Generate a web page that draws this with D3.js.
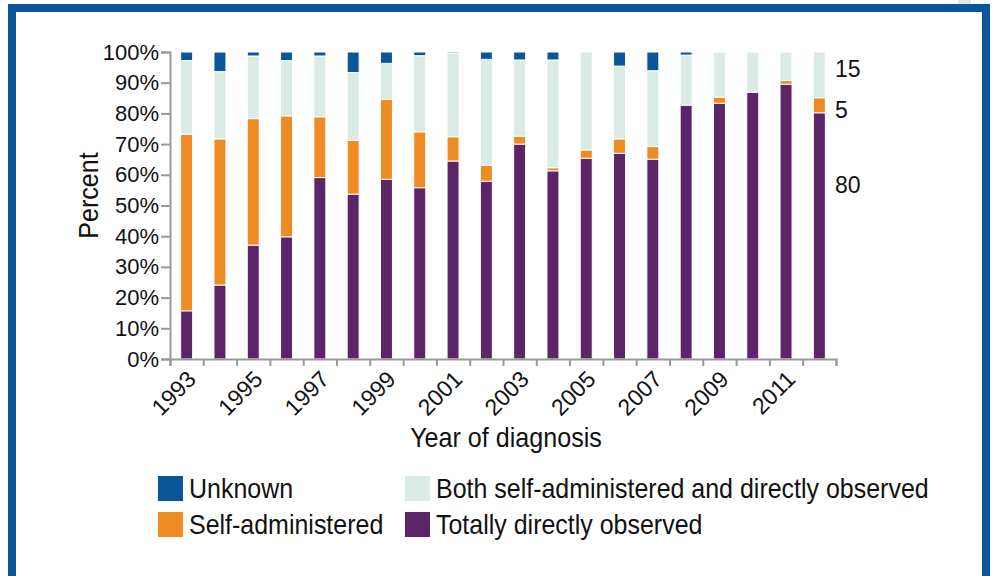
<!DOCTYPE html>
<html>
<head>
<meta charset="utf-8">
<script src="https://cdn.jsdelivr.net/npm/d3@7"></script>
<style>
  body { margin: 0; background: #fff; }
  text { font-family: "Liberation Sans Narrow", "Arial Narrow", "Liberation Sans", sans-serif; fill: #111; }
</style>
</head>
<body>
<script>
const width = 994;
const height = 576;

// data (percent of cases)
const years = d3.range(1993, 2013);
const totallyObserved = [15.7, 24.1, 37.1, 39.8, 59.1, 53.7, 58.5, 55.8, 64.5, 57.9, 70.0, 61.3, 65.4, 67.0, 65.1, 82.7, 83.3, 86.9, 89.5, 80.2];
const selfAdmin = [57.5, 47.6, 41.2, 39.4, 19.8, 17.5, 26.1, 18.2, 7.9, 5.2, 2.6, 1.0, 2.7, 4.7, 4.1, 0, 2.0, 0, 1.2, 4.9];
const both = [24.0, 21.9, 20.4, 18.0, 19.8, 22.1, 11.7, 24.8, 27.2, 34.5, 24.8, 35.1, 31.9, 23.7, 24.7, 16.3, 14.7, 13.1, 9.3, 14.9];
const unknown = [2.8, 6.4, 1.3, 2.8, 1.3, 6.7, 3.7, 1.2, 0.4, 2.4, 2.6, 2.6, 0, 4.6, 6.1, 1.0, 0, 0, 0, 0];
const yTicks = [0, 10, 20, 30, 40, 50, 60, 70, 80, 90, 100];
const xLabelYears = [1993, 1995, 1997, 1999, 2001, 2003, 2005, 2007, 2009, 2011];
// numbers printed to the right of the last bar, with the percent height they sit at
const endLabels = ['15', '5', '80'];
const endLabelAt = [94.5, 81, 56.7];

const keys = ['tdo', 'self', 'both', 'unknown'];
const colors = { tdo: '#5c2568', self: '#ee8b22', both: '#d9ebe4', unknown: '#0b5697' };
const legendItems = [
  { key: 'unknown', label: 'Unknown' },
  { key: 'self', label: 'Self-administered' },
  { key: 'both', label: 'Both self-administered and directly observed' },
  { key: 'tdo', label: 'Totally directly observed' }
];

const rows = years.map((yr, i) => ({
  year: yr, tdo: totallyObserved[i], self: selfAdmin[i], both: both[i], unknown: unknown[i]
}));

// the original uses a condensed face; squeeze the fallback a bit
const squeeze = 0.93;

const svg = d3.select('body').append('svg')
  .attr('width', width)
  .attr('height', height);

// frame
svg.append('rect')
  .attr('x', 12).attr('y', 8)
  .attr('width', 974).attr('height', 576)
  .attr('fill', 'none')
  .attr('stroke', '#0b5697')
  .attr('stroke-width', 8);
svg.append('rect')
  .attr('x', 958).attr('y', 0).attr('width', 13).attr('height', 4)
  .attr('fill', '#d9ebe4');

const plot = { left: 170, right: 836, top: 52, bottom: 359 };

const x = d3.scaleBand()
  .domain(years)
  .range([plot.left, plot.right])
  .paddingInner(0.64)
  .paddingOuter(0.32);

const xEdge = d3.scaleLinear()
  .domain([0, years.length])
  .range([plot.left, plot.right]);

const y = d3.scaleLinear()
  .domain([0, 100])
  .range([plot.bottom, plot.top]);

const series = d3.stack().keys(keys)(rows);

svg.append('g')
  .selectAll('g')
  .data(series)
  .enter().append('g')
    .attr('fill', d => colors[d.key])
  .selectAll('rect')
  .data(d => d.filter(s => s[1] - s[0] > 0))
  .enter().append('rect')
    .attr('x', d => x(d.data.year))
    .attr('width', x.bandwidth())
    .attr('y', d => y(d[1]))
    .attr('height', d => y(d[0]) - y(d[1]))
    .attr('stroke', '#fff')
    .attr('stroke-width', 1);

// y axis
const yAxis = svg.append('g')
  .attr('transform', `translate(${plot.left},0)`)
  .call(d3.axisLeft(y).tickValues(yTicks).tickFormat(d => d + '%').tickSize(9).tickPadding(2));
yAxis.selectAll('text').style('font-size', '22px');

// x axis (ticks at band edges)
const xAxis = svg.append('g')
  .attr('transform', `translate(0,${plot.bottom})`)
  .call(d3.axisBottom(xEdge).tickValues(d3.range(0, years.length + 1)).tickFormat('').tickSize(7));

[yAxis, xAxis].forEach(a => {
  a.select('.domain').attr('stroke', '#999').attr('stroke-width', 2);
  a.selectAll('.tick line').attr('stroke', '#999').attr('stroke-width', 2);
});

svg.append('g')
  .selectAll('text')
  .data(xLabelYears)
  .enter().append('text')
    .attr('transform', d => `translate(${x(d) + x.bandwidth() / 2 + 5},${plot.bottom + 16}) rotate(-45)`)
    .attr('text-anchor', 'end')
    .attr('dy', '0.35em')
    .style('font-size', '23px')
    .text(d => d);

// axis titles
svg.append('text')
  .attr('transform', `translate(98,${(plot.top + plot.bottom) / 2 - 10}) rotate(-90) scale(${squeeze},1)`)
  .attr('text-anchor', 'middle')
  .style('font-size', '27px')
  .text('Percent');

svg.append('text')
  .attr('transform', `translate(506,447) scale(${squeeze},1)`)
  .attr('text-anchor', 'middle')
  .style('font-size', '27px')
  .text('Year of diagnosis');

// end labels
svg.append('g')
  .selectAll('text')
  .data(endLabels)
  .enter().append('text')
    .attr('x', 835)
    .attr('y', (d, i) => y(endLabelAt[i]))
    .attr('dy', '0.35em')
    .style('font-size', '23px')
    .text(d => d);

// legend
const legend = svg.append('g')
  .selectAll('g')
  .data(legendItems)
  .enter().append('g')
    .attr('transform', (d, i) => `translate(${i < 2 ? 158 : 405},${476 + (i % 2) * 36})`);

legend.append('rect')
  .attr('width', 25)
  .attr('height', 25)
  .attr('fill', d => colors[d.key]);

legend.append('text')
  .attr('transform', `translate(31,13) scale(${0.925},1)`)
  .attr('dy', '0.35em')
  .style('font-size', '27px')
  .text(d => d.label);
</script>
</body>
</html>
